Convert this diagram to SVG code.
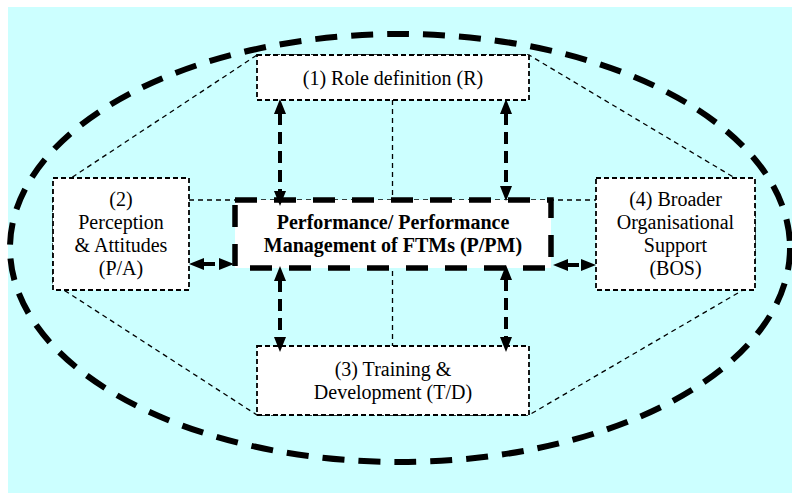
<svg xmlns="http://www.w3.org/2000/svg" width="792" height="493" viewBox="0 0 792 493">
<style>
.t{font-size:20px;fill:#000;text-anchor:middle}
.b{font-weight:bold}
.box{fill:#fff;stroke:#000;stroke-width:1.8;stroke-dasharray:5 3}
.thin{fill:none;stroke:#000;stroke-width:1.3;stroke-dasharray:5 4}
.arr{stroke:#000;stroke-width:4;stroke-dasharray:12 7;fill:none;marker-start:url(#ah);marker-end:url(#ah)}
</style>
<defs>
<marker id="ah" markerUnits="userSpaceOnUse" viewBox="-1 -6 15 12" refX="0" refY="0" markerWidth="15" markerHeight="12" orient="auto-start-reverse">
<path d="M-1,-6 L14,0 L-1,6 z" fill="#000"/>
</marker>
</defs>
<rect x="8" y="7" width="784" height="486" fill="#CCFFFF"/>
<g id="boundary">
<ellipse cx="400" cy="248" rx="390" ry="214" fill="none" stroke="#000" stroke-width="6" stroke-dasharray="22 14"/>
</g>
<g id="connectors">
<polygon class="thin" points="257,55 529,55 755,190 755,283 529,415 257,415 53,283 53,190"/>
<line class="thin" x1="189" y1="200" x2="596" y2="200"/>
<line class="thin" x1="392.5" y1="100" x2="392.5" y2="346"/>
</g>
<g font-family="Liberation Serif, Times New Roman, serif">
<g id="node-R">
<rect class="box" x="257" y="55" width="272" height="45"/>
<text class="t" font-family="Liberation Serif, serif" x="393" y="84.5">(1) Role definition (R)</text>
</g>
<g id="node-PA">
<rect class="box" x="53" y="178" width="136" height="112"/>
<text class="t" font-family="Liberation Serif, serif" x="121" y="206">(2)</text>
<text class="t" font-family="Liberation Serif, serif" x="121" y="229">Perception</text>
<text class="t" font-family="Liberation Serif, serif" x="121" y="252">&amp; Attitudes</text>
<text class="t" font-family="Liberation Serif, serif" x="121" y="275">(P/A)</text>
</g>
<g id="node-BOS">
<rect class="box" x="596" y="178" width="159" height="112"/>
<text class="t" font-family="Liberation Serif, serif" x="675.5" y="206">(4) Broader</text>
<text class="t" font-family="Liberation Serif, serif" x="675.5" y="229">Organisational</text>
<text class="t" font-family="Liberation Serif, serif" x="675.5" y="252">Support</text>
<text class="t" font-family="Liberation Serif, serif" x="675.5" y="275">(BOS)</text>
</g>
<g id="node-TD">
<rect class="box" x="257" y="346" width="272" height="69"/>
<text class="t" font-family="Liberation Serif, serif" x="393" y="375.5">(3) Training &amp;</text>
<text class="t" font-family="Liberation Serif, serif" x="393" y="398.5">Development (T/D)</text>
</g>
<g id="node-PPM">
<rect x="235" y="200" width="316" height="68" fill="#fff" stroke="#000" stroke-width="5.5" stroke-dasharray="22 17"/>
<text class="t b" font-family="Liberation Serif, serif" x="393" y="229">Performance/ Performance</text>
<text class="t b" font-family="Liberation Serif, serif" x="393" y="252">Management of FTMs (P/PM)</text>
</g>
</g>
<g id="arrows">
<line class="arr" x1="280" y1="113" x2="280" y2="192"/>
<line class="arr" x1="506" y1="113" x2="506" y2="187"/>
<line class="arr" x1="280" y1="280" x2="280" y2="338"/>
<line class="arr" x1="506" y1="279" x2="506" y2="338"/>
<line class="arr" x1="203" y1="264" x2="220" y2="264"/>
<line class="arr" x1="567" y1="265" x2="582" y2="265"/>
</g>
</svg>
